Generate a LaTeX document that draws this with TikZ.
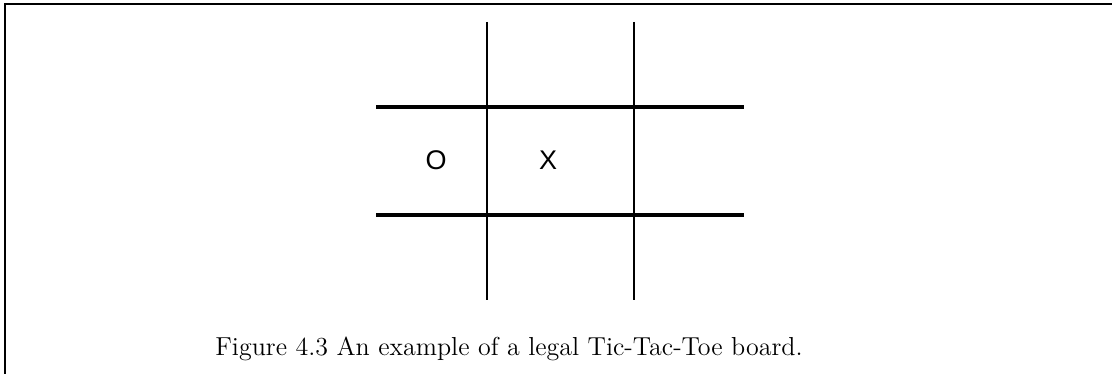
\documentclass[tikz,border=0pt]{standalone}
\usepackage{fontspec}
\newfontfamily\piecefont{Liberation Sans}
\usepackage{tikz}
\usetikzlibrary{positioning}
\tikzset{
  frameline/.style ={line width=1.4pt},
  vline/.style     ={line width=1.1pt},
  hline/.style     ={line width=1.6pt},
  piece/.style     ={font=\fontsize{13.5}{15}\selectfont\piecefont, inner sep=0pt},
  capt/.style      ={font=\fontsize{13}{15}\selectfont, inner sep=0pt, anchor=base}
}

\begin{document}
\begin{tikzpicture}[x=0.5pt,y=-0.5pt]
  \useasboundingbox (0,0) rectangle (1112,374);

  % open frame, top and left side only
  \draw[frameline] (5,374) -- (5,4) -- (1112,4);

  % board
  \draw[vline] (487,22) -- (487,300);
  \draw[vline] (634,22) -- (634,300);
  \draw[hline] (376,107) -- (744,107);
  \draw[hline] (376,215) -- (744,215);

  \node[piece] (o) at (436,160) {O};
  \node[piece] (x) at (548,160) {X};

  \node[capt] (cap) at (509,355) {Figure 4.3 An example of a legal Tic-Tac-Toe board.};
\end{tikzpicture}
\end{document}
